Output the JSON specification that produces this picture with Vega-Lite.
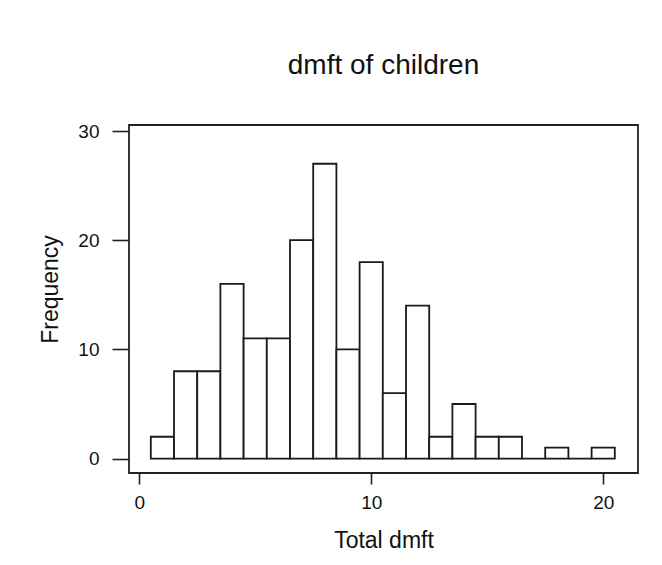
{
  "$schema": "https://vega.github.io/schema/vega-lite/v6.json",
  "autosize": {"type": "none"},
  "padding": {"left": 129, "top": 125, "right": 24, "bottom": 92},
  "width": 509,
  "height": 348,
  "background": "white",
  "title": {
    "text": "dmft of children",
    "font": "Liberation Sans",
    "fontSize": 28,
    "fontWeight": "normal",
    "color": "#111111",
    "anchor": "middle",
    "baseline": "alphabetic",
    "offset": 20
  },
  "data": {
    "values": [
      {"start": 0.5, "end": 1.5, "count": 2},
      {"start": 1.5, "end": 2.5, "count": 8},
      {"start": 2.5, "end": 3.5, "count": 8},
      {"start": 3.5, "end": 4.5, "count": 16},
      {"start": 4.5, "end": 5.5, "count": 11},
      {"start": 5.5, "end": 6.5, "count": 11},
      {"start": 6.5, "end": 7.5, "count": 20},
      {"start": 7.5, "end": 8.5, "count": 27},
      {"start": 8.5, "end": 9.5, "count": 10},
      {"start": 9.5, "end": 10.5, "count": 18},
      {"start": 10.5, "end": 11.5, "count": 6},
      {"start": 11.5, "end": 12.5, "count": 14},
      {"start": 12.5, "end": 13.5, "count": 2},
      {"start": 13.5, "end": 14.5, "count": 5},
      {"start": 14.5, "end": 15.5, "count": 2},
      {"start": 15.5, "end": 16.5, "count": 2},
      {"start": 16.5, "end": 17.5, "count": 0},
      {"start": 17.5, "end": 18.5, "count": 1},
      {"start": 18.5, "end": 19.5, "count": 0},
      {"start": 19.5, "end": 20.5, "count": 1}
    ]
  },
  "mark": {"type": "rect", "fill": "white", "stroke": "#1a1a1a", "strokeWidth": 1.8},
  "encoding": {
    "x": {
      "field": "start",
      "type": "quantitative",
      "scale": {"domain": [-0.44, 21.5], "nice": false, "zero": false},
      "axis": {
        "title": "Total dmft",
        "values": [0, 10, 20],
        "grid": false,
        "domain": false,
        "tickSize": 11,
        "tickWidth": 1.6,
        "tickColor": "#222222",
        "labelFont": "Liberation Sans",
        "labelFontSize": 19,
        "labelColor": "#111111",
        "labelPadding": 9,
        "titleFont": "Liberation Sans",
        "titleFontSize": 23,
        "titleFontWeight": "normal",
        "titleColor": "#111111",
        "titleBaseline": "alphabetic",
        "titleY": 74
      }
    },
    "x2": {"field": "end"},
    "y": {
      "field": "count",
      "type": "quantitative",
      "scale": {"domain": [-1.32, 30.55], "nice": false, "zero": false},
      "axis": {
        "title": "Frequency",
        "values": [0, 10, 20, 30],
        "grid": false,
        "domain": false,
        "tickSize": 17,
        "tickWidth": 1.6,
        "tickColor": "#222222",
        "labelFont": "Liberation Sans",
        "labelFontSize": 19,
        "labelColor": "#111111",
        "labelPadding": 13,
        "titleFont": "Liberation Sans",
        "titleFontSize": 23,
        "titleFontWeight": "normal",
        "titleColor": "#111111",
        "titleAngle": -90,
        "titleAlign": "center",
        "titleBaseline": "alphabetic",
        "titleX": -72,
        "titleY": 164
      }
    },
    "y2": {"datum": 0}
  },
  "config": {
    "view": {"stroke": "#222222", "strokeWidth": 1.8}
  }
}
